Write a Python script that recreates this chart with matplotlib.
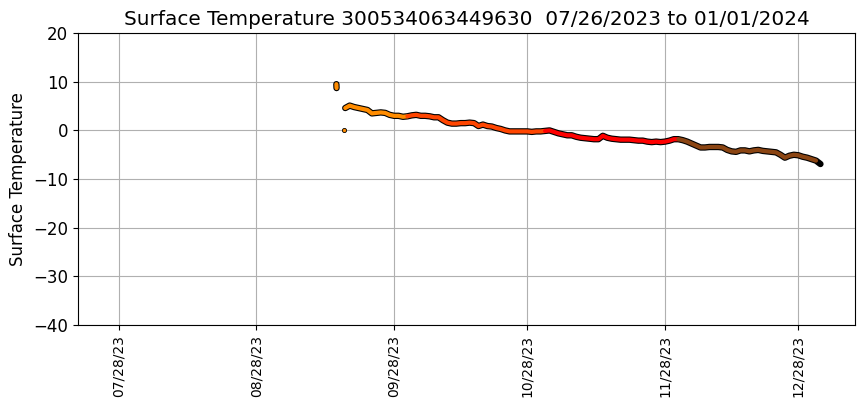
import datetime as dt
import numpy as np
import matplotlib; matplotlib.use("Agg")
import matplotlib.pyplot as plt
import matplotlib.dates as mdates

# daily surface temperature readings (start date + values)
start = dt.datetime(2023, 9, 17)
temps = [4.6, 5.1, 4.8, 4.6, 4.4, 4.2, 3.5, 3.6, 3.7, 3.6, 3.2, 3.0, 3.0, 2.8,   # Sep 17-30
         2.9, 3.1, 3.2, 3.0, 3.0, 2.9, 2.7, 2.7, 2.1, 1.6, 1.4, 1.4, 1.5, 1.5,   # Oct 1-14
         1.6, 1.5, 0.9, 1.2, 0.9, 0.8, 0.5, 0.3, 0.0, -0.2, -0.2, -0.2, -0.2,    # Oct 15-27
         -0.2, -0.3, -0.2, -0.2,                                                 # Oct 28-31
         -0.1, 0.0, -0.3, -0.6, -0.8, -1.0, -1.0, -1.3, -1.5, -1.6, -1.7, -1.8,  # Nov 1-12
         -1.8, -1.1, -1.5, -1.7, -1.8, -1.9, -1.9, -1.9, -2.0, -2.1, -2.1, -2.3, # Nov 13-24
         -2.4, -2.3, -2.4, -2.3, -2.1, -1.8,                                     # Nov 25-30
         -1.8, -2.0, -2.3, -2.7, -3.1, -3.5, -3.5, -3.4, -3.4, -3.4, -3.5, -4.0, # Dec 1-12
         -4.3, -4.4, -4.1, -4.1, -4.3, -4.1, -4.0, -4.2, -4.3, -4.4, -4.5, -5.0, # Dec 13-24
         -5.6, -5.2, -5.0, -5.1, -5.4, -5.6, -5.9,                               # Dec 25-31
         -6.2, -6.9]                                                             # Jan 1-2
dates = [start + dt.timedelta(days=i) for i in range(len(temps))]

# early isolated readings
blob_dates = [dt.datetime(2023, 9, 15, 0), dt.datetime(2023, 9, 15, 1)]
blob_temps = [9.5, 8.7]
dot_date = [dt.datetime(2023, 9, 16, 16)]
dot_temp = [0.0]

month_colors = {9: "darkorange", 10: "orangered", 11: "red", 12: "saddlebrown", 1: "black"}

fig, ax = plt.subplots(figsize=(8.63, 4.08), dpi=100)
fig.subplots_adjust(left=0.09, right=0.991, top=0.919, bottom=0.203)

lw_out, lw_in = 4.6, 3.0
kw = dict(solid_capstyle="round", solid_joinstyle="round", zorder=3)
ax.plot(dates, temps, color="black", lw=lw_out, **kw)
ax.plot(blob_dates, blob_temps, color="black", lw=lw_out, **kw)
ax.plot(blob_dates, blob_temps, color="darkorange", lw=lw_in, **kw)
months = [d.month for d in dates]
for m in [9, 10, 11, 12, 1]:
    idx = [i for i, mm in enumerate(months) if mm == m]
    if m == 1:
        idx = idx[-1:]
    seg = idx + ([idx[-1] + 1] if idx[-1] + 1 < len(dates) and m != 12 else [])
    if m == 12:
        seg = idx + [idx[-1] + 1]
    ax.plot([dates[i] for i in seg], [temps[i] for i in seg],
            color=month_colors[m], lw=lw_in, **kw)
ax.scatter(dot_date, dot_temp, s=9, color="darkorange", edgecolors="black",
           linewidths=0.6, zorder=3)

ax.set_xlim(dt.datetime(2023, 7, 18, 18), dt.datetime(2024, 1, 9, 20))
ax.set_ylim(-40, 20)
ax.set_yticks(np.arange(-40, 21, 10))
ticks = [dt.datetime(2023, m, 28) for m in range(7, 13)]
ax.set_xticks(ticks)
ax.xaxis.set_major_formatter(mdates.DateFormatter("%m/%d/%y"))
plt.setp(ax.get_xticklabels(), rotation=90, fontsize=10)
ax.tick_params(axis="y", labelsize=12)
ax.grid(True, zorder=0)
ax.set_axisbelow(True)
ax.set_ylabel("Surface Temperature", fontsize=12)
ax.set_title("Surface Temperature 300534063449630  07/26/2023 to 01/01/2024", fontsize=14.4)
fig.savefig("out.png", dpi=100)
